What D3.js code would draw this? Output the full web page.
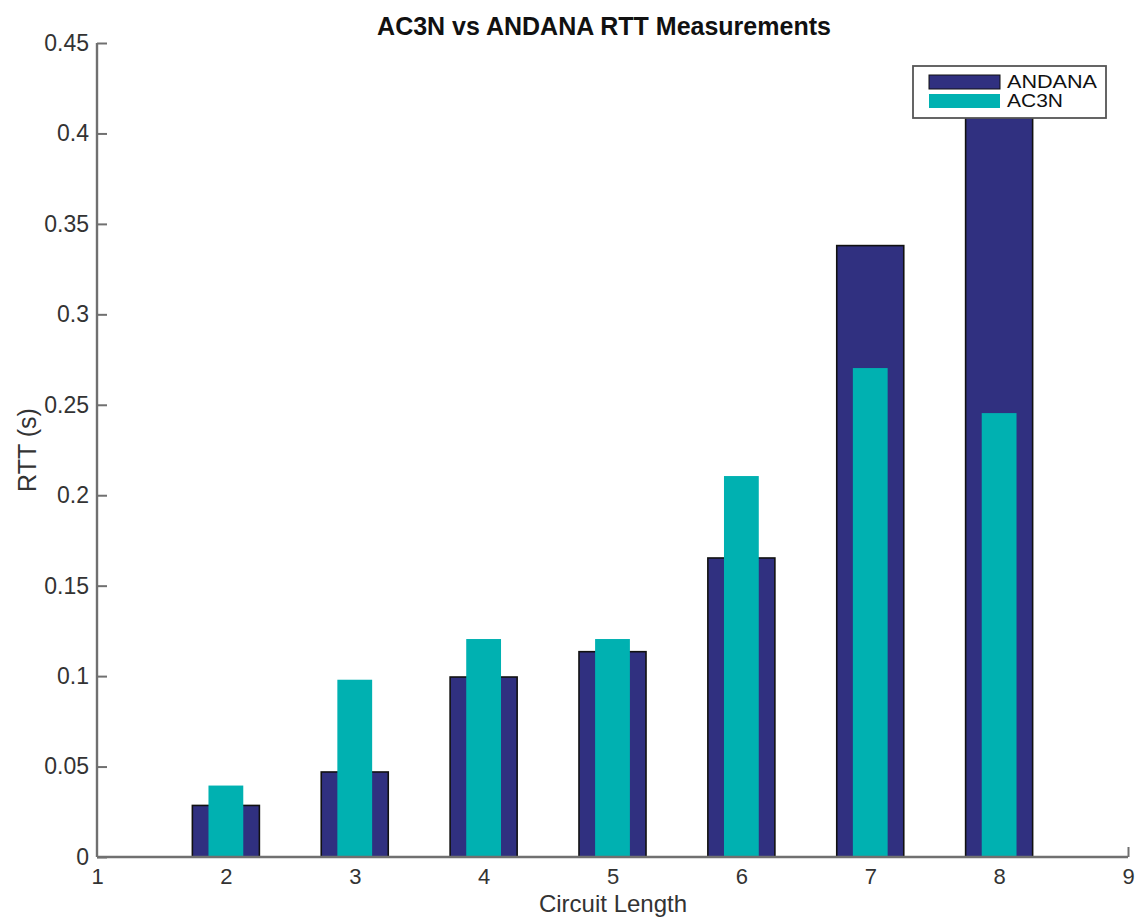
<!DOCTYPE html>
<html><head><meta charset="utf-8">
<script src="https://cdn.jsdelivr.net/npm/d3@7"></script>
<style>body{margin:0;background:#fff}svg{display:block}</style>
</head><body>
<script>
const circuitLengths = [2, 3, 4, 5, 6, 7, 8];
const andana = [0.0285, 0.047, 0.0995, 0.1135, 0.1653, 0.338, 0.425];
const ac3n   = [0.0395, 0.098, 0.1205, 0.1205, 0.2106, 0.2703, 0.2454];
const yTicks = [0, 0.05, 0.1, 0.15, 0.2, 0.25, 0.3, 0.35, 0.4, 0.45];
const xTicks = [1, 2, 3, 4, 5, 6, 7, 8, 9];
const seriesNames = ["ANDANA", "AC3N"];
const colors = ["#303080", "#00b1b1"];

const W = 1140, H = 923;
const svg = d3.select("body").append("svg").attr("width", W).attr("height", H);
const x = d3.scaleLinear().domain([1, 9]).range([97, 1128]);
const y = d3.scaleLinear().domain([0, 0.45]).range([857, 43]);
const font = "'Liberation Sans', Arial, Helvetica, sans-serif";

svg.append("defs").append("clipPath").attr("id", "plot")
  .append("rect").attr("x", 97).attr("y", 43).attr("width", 1031).attr("height", 814);

const g = svg.append("g").attr("clip-path", "url(#plot)");
const wide = 0.52, narrow = 0.27;
g.selectAll("rect.a").data(circuitLengths).join("rect")
  .attr("x", (d) => x(d - wide / 2)).attr("width", x(1 + wide) - x(1))
  .attr("y", (d, i) => y(andana[i])).attr("height", (d, i) => y(0) - y(andana[i]))
  .attr("fill", colors[0]).attr("stroke", "#111").attr("stroke-width", 1.6);
g.selectAll("rect.b").data(circuitLengths).join("rect")
  .attr("x", (d) => x(d - narrow / 2)).attr("width", x(1 + narrow) - x(1))
  .attr("y", (d, i) => y(ac3n[i])).attr("height", (d, i) => y(0) - y(ac3n[i]))
  .attr("fill", colors[1]);

// axes
const xAxis = d3.axisBottom(x).tickValues(xTicks).tickSize(-10).tickPadding(11).tickFormat(d3.format("d"));
const yAxis = d3.axisLeft(y).tickValues(yTicks).tickSize(-10).tickPadding(8).tickFormat((d) => d === 0 ? "0" : String(+d.toFixed(2)));
const gx = svg.append("g").attr("transform", `translate(0,${y(0)})`).call(xAxis);
const gy = svg.append("g").attr("transform", `translate(${x(1)},0)`).call(yAxis);
[gx, gy].forEach((a) => {
  a.select(".domain").attr("stroke", "#707070").attr("stroke-width", 2.4);
  a.selectAll(".tick line").attr("stroke", "#707070").attr("stroke-width", 2);
  a.selectAll(".tick text").attr("fill", "#333").style("font-family", font).style("font-size", "23px");
});
gx.selectAll(".tick text").style("font-size", "22px");
gx.select(".domain").attr("d", `M${x(1)},0H${x(9)}`);
gy.select(".domain").attr("d", `M0,${y(0)}V${y(0.45)}`);
gx.selectAll(".tick line").filter((d) => d !== 9).remove();

// legend
const lg = svg.append("g");
lg.append("rect").attr("x", 913).attr("y", 66).attr("width", 193).attr("height", 52)
  .attr("fill", "#fff").attr("stroke", "#555").attr("stroke-width", 1.8);
const legendWidths = [90, 56];
seriesNames.forEach((s, i) => {
  lg.append("rect").attr("x", 929).attr("y", 75 + i * 19).attr("width", 71).attr("height", 14)
    .attr("fill", colors[i]).attr("stroke", i === 0 ? "#111" : "none").attr("stroke-width", 1);
  lg.append("text").attr("x", 1007).attr("y", 88 + i * 19).text(s)
    .attr("textLength", legendWidths[i]).attr("lengthAdjust", "spacingAndGlyphs")
    .style("font-family", font).style("font-size", "18px").attr("fill", "#111");
});

// titles
svg.append("text").attr("x", 604).attr("y", 35).attr("text-anchor", "middle")
  .style("font-family", font).style("font-size", "25px").style("font-weight", "bold").attr("fill", "#111")
  .text("AC3N vs ANDANA RTT Measurements");
svg.append("text").attr("x", 613).attr("y", 912).attr("text-anchor", "middle")
  .style("font-family", font).style("font-size", "24px").attr("fill", "#333").text("Circuit Length");
svg.append("text").attr("transform", "translate(36,450) rotate(-90)").attr("text-anchor", "middle")
  .style("font-family", font).style("font-size", "25px").attr("fill", "#333").text("RTT (s)");
</script>
</body></html>
